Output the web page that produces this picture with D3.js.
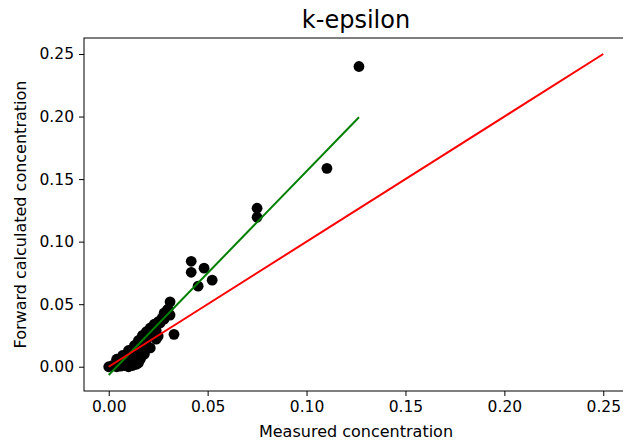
<!DOCTYPE html>
<html>
<head>
<meta charset="utf-8">
<script src="https://cdn.jsdelivr.net/npm/d3@7"></script>
<style>
  body { margin: 0; background: #fff; }
  svg { display: block; font-family: "DejaVu Sans", sans-serif; }
</style>
</head>
<body>
<div id="chart"></div>
<script>
// k-epsilon: measured vs forward calculated concentration

// scatter points
const measured = [
    0.000, 0.002, 0.004, 0.006, 0.008, 0.010, 0.012, 0.014, 0.015,
    0.016, 0.018, 0.019, 0.021, 0.024,
    0.004, 0.007, 0.010, 0.013, 0.015, 0.017, 0.019, 0.021, 0.023,
    0.025, 0.027, 0.028, 0.030, 0.031,
    0.008, 0.011, 0.013, 0.015, 0.017, 0.019, 0.022, 0.024, 0.026, 0.028,
    0.025, 0.033, 0.0296, 0.031,
    0.0417, 0.0482, 0.0417, 0.0523, 0.0452,
    0.075, 0.075, 0.1103, 0.1265
];
const calculated = [
    0.000, 0.001, 0.000, 0.0005, 0.001, 0.000, 0.001, 0.002, 0.003,
    0.006, 0.010, 0.014, 0.015, 0.022,
    0.006, 0.009, 0.013, 0.017, 0.021, 0.025, 0.028, 0.031, 0.034,
    0.036, 0.039, 0.043, 0.046, 0.0519,
    0.004, 0.007, 0.010, 0.013, 0.018, 0.021, 0.026, 0.029, 0.035, 0.038,
    0.0245, 0.0259, 0.0452, 0.0413,
    0.0843, 0.0788, 0.0755, 0.0692, 0.0644,
    0.1267, 0.1195, 0.1586, 0.240
];

// regression line and 1:1 line
const fitX = [0, 0.1265];
const fitY = [-0.0066, 0.1995];
const idX = [0, 0.25];
const idY = [0, 0.25];

const ticks = [0, 0.05, 0.10, 0.15, 0.20, 0.25];

const W = 623, H = 442;
const plot = { left: 84, right: 628, top: 38, bottom: 391 };

const svg = d3.select('#chart').append('svg')
    .attr('width', W)
    .attr('height', H);

svg.append('rect').attr('width', W).attr('height', H).attr('fill', '#fff');

const x = d3.scaleLinear().domain([-0.0125, 0.2625]).range([plot.left, plot.right]);
const y = d3.scaleLinear().domain([-0.0194, 0.2628]).range([plot.bottom, plot.top]);

// points
svg.append('g')
    .selectAll('circle')
    .data(measured.map((m, i) => ({ m, c: calculated[i] })))
    .enter()
    .append('circle')
    .attr('cx', d => x(d.m))
    .attr('cy', d => y(d.c))
    .attr('r', 5.4)
    .attr('fill', '#000');

const line = d3.line().x(d => x(d[0])).y(d => y(d[1]));

svg.append('path')
    .datum(fitX.map((v, i) => [v, fitY[i]]))
    .attr('fill', 'none')
    .attr('stroke', 'green')
    .attr('stroke-width', 2)
    .attr('d', line);

svg.append('path')
    .datum(idX.map((v, i) => [v, idY[i]]))
    .attr('fill', 'none')
    .attr('stroke', 'red')
    .attr('stroke-width', 2)
    .attr('d', line);

// frame
svg.append('rect')
    .attr('x', plot.left)
    .attr('y', plot.top)
    .attr('width', plot.right - plot.left)
    .attr('height', plot.bottom - plot.top)
    .attr('fill', 'none')
    .attr('stroke', '#000')
    .attr('stroke-width', 1);

const fmt = d3.format('.2f');

// x axis
const xAxis = svg.append('g')
    .attr('transform', `translate(0,${plot.bottom})`)
    .call(d3.axisBottom(x).tickValues(ticks).tickFormat(fmt).tickSize(5).tickPadding(5));
xAxis.select('.domain').remove();

// y axis
const yAxis = svg.append('g')
    .attr('transform', `translate(${plot.left},0)`)
    .call(d3.axisLeft(y).tickValues(ticks).tickFormat(fmt).tickSize(5).tickPadding(5));
yAxis.select('.domain').remove();

svg.selectAll('.tick text')
    .attr('font-family', '"DejaVu Sans", sans-serif')
    .attr('font-size', '15.5px')
    .attr('fill', '#000');
svg.selectAll('.tick line').attr('stroke', '#000');

// labels
svg.append('text')
    .attr('x', (plot.left + plot.right) / 2)
    .attr('y', 28)
    .attr('text-anchor', 'middle')
    .attr('font-size', '24px')
    .attr('fill', '#000')
    .text('k-epsilon');

svg.append('text')
    .attr('x', 356)
    .attr('y', 437)
    .attr('text-anchor', 'middle')
    .attr('font-size', '16px')
    .attr('fill', '#000')
    .text('Measured concentration');

svg.append('text')
    .attr('transform', `translate(26,${(plot.top + plot.bottom) / 2}) rotate(-90)`)
    .attr('text-anchor', 'middle')
    .attr('font-size', '16px')
    .attr('fill', '#000')
    .text('Forward calculated concentration');
</script>
</body>
</html>
